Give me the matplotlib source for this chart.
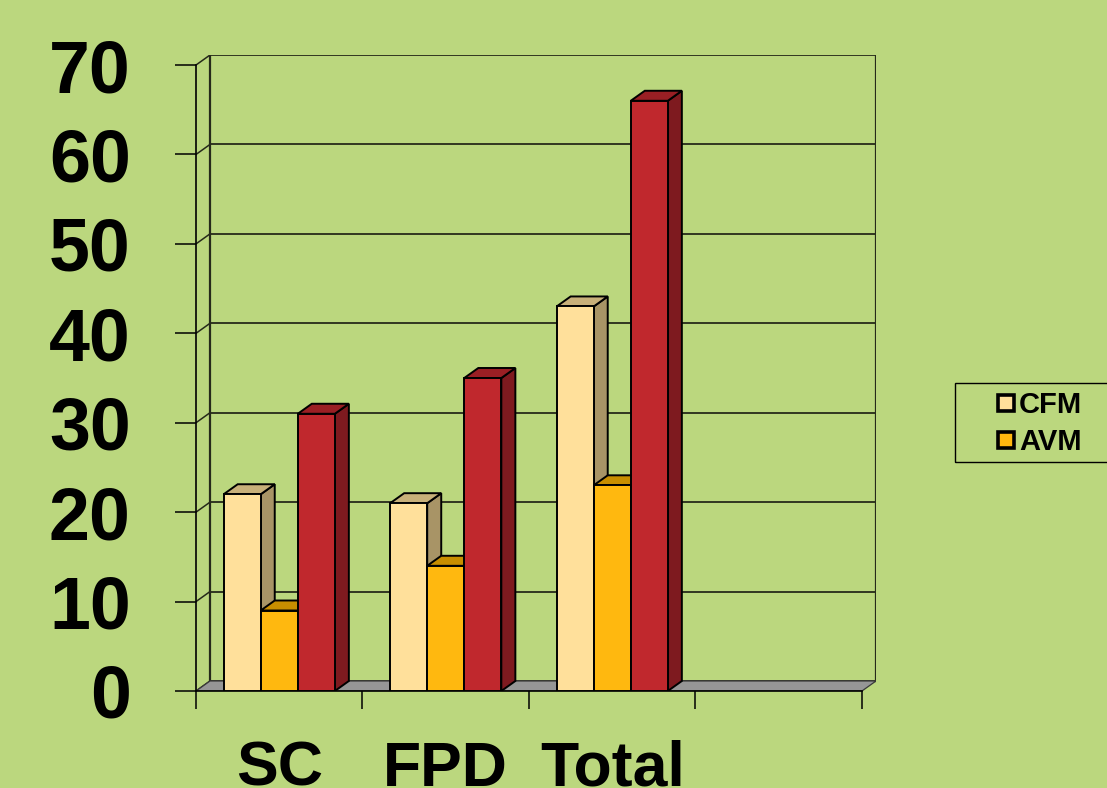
import matplotlib
matplotlib.use("Agg")
import matplotlib.pyplot as plt
from matplotlib.patches import Polygon, Rectangle
from matplotlib.lines import Line2D

plt.rcParams['font.family'] = ['Liberation Sans', 'DejaVu Sans']
plt.rcParams['font.weight'] = 'bold'

# data
categories = ['SC', 'FPD', 'Total']
n_slots = 4  # the chart keeps an empty fourth slot
cfm = [22, 21, 43]
avm = [9, 14, 23]
third = [31, 35, 66]
legend_labels = ['CFM', 'AVM']
y_ticks = [0, 10, 20, 30, 40, 50, 60, 70]

bg = '#BBD77E'
# (front, side, top) for each series
styles = [
    ('#FFE09B', '#A89466', '#C8B07A'),
    ('#FFB80F', '#C88E00', '#C88E00'),
    ('#C0282D', '#7E1A1F', '#9A1F24'),
]

W, H = 1107, 788
fig = plt.figure(figsize=(W / 100, H / 100), dpi=100, facecolor=bg)

# front plane: x 196..861 px for 4 slots, y 691 (0) .. 66 (70)
px_per_x = (861 - 196) / n_slots
px_per_y = (691 - 66) / 70
dx = 14 / px_per_x      # depth offset in data units
dy = 10 / px_per_y

left, right, bottom, top = 196, 876, 691, 55
ax = fig.add_axes([left / W, 1 - bottom / H, (right - left) / W, (bottom - top) / H])
ax.set_xlim(0, n_slots + dx)
ax.set_ylim(0, 70 + dy)
ax.set_facecolor('none')
for s in ['top', 'right']:
    ax.spines[s].set_visible(False)
ax.spines['left'].set_bounds(0, 70)
ax.spines['bottom'].set_bounds(0, n_slots)
ax.spines['left'].set_linewidth(1.2)
ax.spines['bottom'].set_linewidth(1.2)

# back wall gridlines + side diagonals
grid_c = '#262A1A'
for v in y_ticks:
    ax.plot([dx, n_slots + dx], [v + dy, v + dy], color=grid_c, lw=1.3, zorder=1)
    ax.plot([0, dx], [v, v + dy], color=grid_c, lw=1.1, zorder=1)
ax.plot([dx, dx], [dy, 70 + dy], color=grid_c, lw=1.6, zorder=1)
ax.plot([n_slots + dx, n_slots + dx], [dy, 70 + dy], color=grid_c, lw=1.6, zorder=1)

# floor
ax.add_patch(Polygon([(0, 0), (n_slots, 0), (n_slots + dx, dy), (dx, dy)],
                     closed=True, facecolor='#969696', edgecolor='#3A3A3A', lw=0.9, zorder=2))

# bars
bw = 0.2226
z = 3
for i in range(len(categories)):
    x0 = i + 0.5 - 1.5 * bw
    for j, series in enumerate([cfm, avm, third]):
        v = series[i]
        xl = x0 + j * bw
        xr = xl + bw
        front_c, side_c, top_c = styles[j]
        ax.add_patch(Polygon([(xr, 0), (xr + dx, dy), (xr + dx, v + dy), (xr, v)],
                             closed=True, facecolor=side_c, edgecolor='black', lw=1.4, zorder=z))
        ax.add_patch(Polygon([(xl, v), (xr, v), (xr + dx, v + dy), (xl + dx, v + dy)],
                             closed=True, facecolor=top_c, edgecolor='black', lw=1.4, zorder=z))
        ax.add_patch(Rectangle((xl, 0), bw, v, facecolor=front_c, edgecolor='black',
                               lw=1.4, zorder=z + 1))
        z += 2

# ticks
ax.set_yticks(y_ticks)
ax.set_yticklabels([str(t) for t in y_ticks], fontsize=53, fontweight='bold')
ax.tick_params(axis='y', length=15, width=1.1, pad=32, direction='out')
ax.set_xticks(range(n_slots + 1))
ax.set_xticklabels([])
ax.tick_params(axis='x', which='major', length=13, width=1.1, direction='out')
ax.set_xticks([i + 0.5 for i in range(len(categories))], minor=True)
ax.set_xticklabels(categories, minor=True, fontsize=45, fontweight='bold')
ax.tick_params(axis='x', which='minor', length=0, pad=35)

# legend
handles = [Line2D([], [], ls='none', marker='s', markersize=11.5, markeredgewidth=2.6,
                  markerfacecolor=styles[k][0], markeredgecolor='black')
           for k in range(2)]
fig.legend(handles, legend_labels, loc='upper left', bbox_to_anchor=(994 / W, 1 - 391 / H),
           frameon=False, prop={'weight': 'bold', 'size': 21}, borderaxespad=0,
           handlelength=0.8, handletextpad=0.05, labelspacing=0.3, borderpad=0)
fig.add_artist(Rectangle((955 / W, 1 - 462 / H), 200 / W, 79 / H, transform=fig.transFigure,
                         facecolor='none', edgecolor='black', lw=1.0))

fig.savefig('out.png', dpi=100, facecolor=bg)
